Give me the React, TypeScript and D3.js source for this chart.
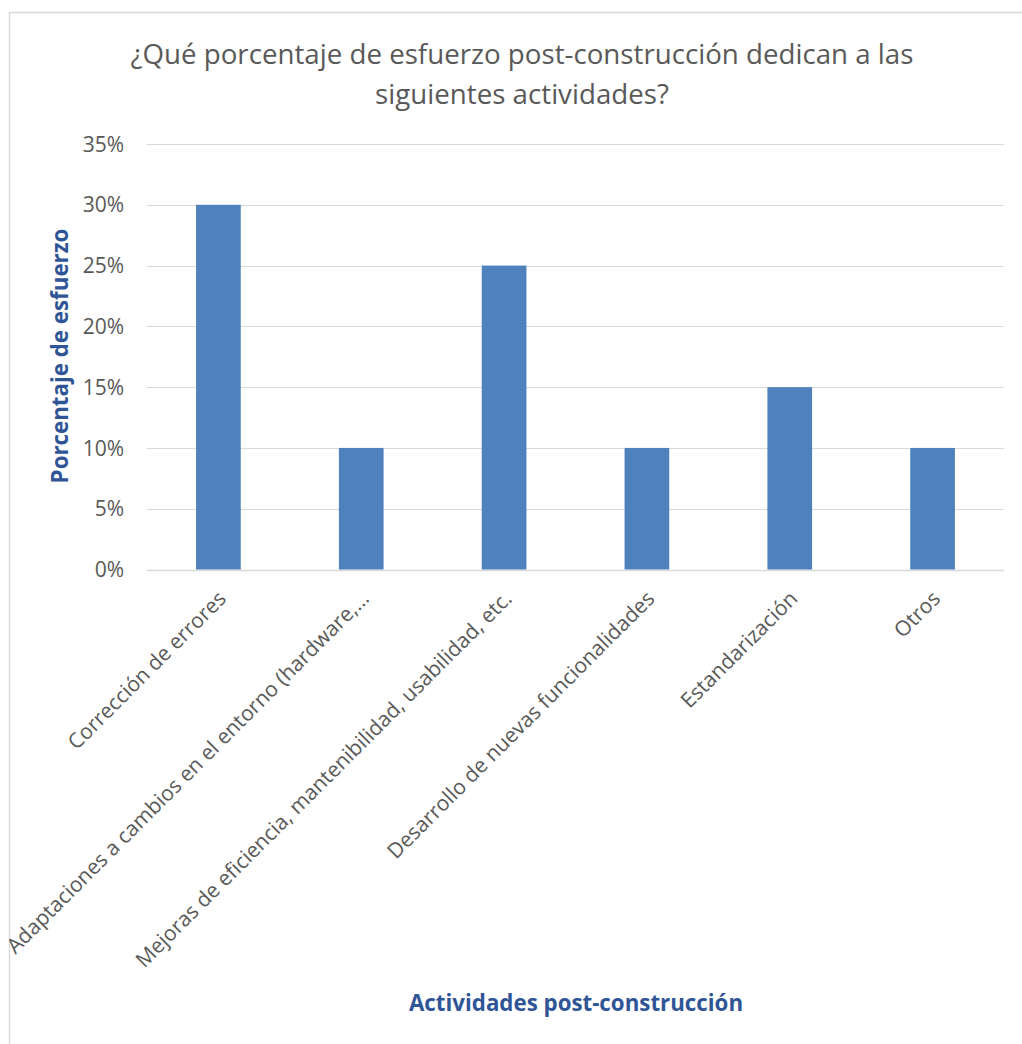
import React, { useRef, useEffect } from "react";
import * as d3 from "d3";

const categories = [
  "Corrección de errores",
  "Adaptaciones a cambios en el entorno (hardware,…",
  "Mejoras de eficiencia, mantenibilidad, usabilidad, etc.",
  "Desarrollo de nuevas funcionalidades",
  "Estandarización",
  "Otros",
];

const values = [0.3, 0.1, 0.25, 0.1, 0.15, 0.1];

const yTicks = [0, 0.05, 0.1, 0.15, 0.2, 0.25, 0.3, 0.35];

const titleLines = [
  "¿Qué porcentaje de esfuerzo post-construcción dedican a las",
  "siguientes actividades?",
];

const ChartConfig = {
  width: 1022,
  height: 1044,
  left: 147,
  right: 1004,
  top: 144,
  bottom: 569.5,
};

const FONT = "'Open Sans', 'Noto Sans', sans-serif";
const TEXT_GREY = "#595959";
const AXIS_BLUE = "#2F5597";
const BAR_BLUE = "#4F81BD";
const GRID = "#D9D9D9";

const App = () => {
  const ref = useRef<SVGSVGElement>(null);

  useEffect(() => {
    const svg = d3
      .select(ref.current)
      .attr("width", ChartConfig.width)
      .attr("height", ChartConfig.height);
    svg.selectAll("*").remove();

    // chart frame
    svg
      .append("rect")
      .attr("x", 9.5)
      .attr("y", 12.5)
      .attr("width", 1030)
      .attr("height", 1050)
      .attr("fill", "white")
      .attr("stroke", GRID)
      .attr("stroke-width", 1.5);

    const x = d3
      .scaleBand()
      .domain(categories)
      .range([ChartConfig.left, ChartConfig.right])
      .paddingInner(0.687)
      .paddingOuter(0.3435);

    const y = d3
      .scaleLinear()
      .domain([0, 0.35])
      .range([ChartConfig.bottom, ChartConfig.top]);

    // gridlines
    svg
      .append("g")
      .selectAll("line")
      .data(yTicks)
      .enter()
      .append("line")
      .attr("x1", ChartConfig.left)
      .attr("x2", ChartConfig.right)
      .attr("y1", (d) => Math.round(y(d)) + 0.5)
      .attr("y2", (d) => Math.round(y(d)) + 0.5)
      .attr("stroke", GRID)
      .attr("stroke-width", (d) => (d === 0 ? 1.5 : 1.2));

    // bars
    svg
      .append("g")
      .selectAll("rect")
      .data(values)
      .enter()
      .append("rect")
      .attr("x", (d, i) => x(categories[i]) as number)
      .attr("y", (d) => y(d))
      .attr("width", x.bandwidth())
      .attr("height", (d) => y(0) - y(d))
      .attr("fill", BAR_BLUE);

    // y axis labels
    const yAxis = d3
      .axisLeft(y)
      .tickValues(yTicks)
      .tickSize(0)
      .tickPadding(0)
      .tickFormat(d3.format(".0%") as any);

    const yg = svg
      .append("g")
      .attr("transform", `translate(124,0)`)
      .call(yAxis as any);
    yg.select(".domain").remove();
    yg.selectAll("text")
      .attr("font-family", FONT)
      .attr("font-size", 21)
      .attr("fill", TEXT_GREY)
      .attr("dy", "0.34em");

    // x axis labels
    svg
      .append("g")
      .selectAll("text")
      .data(categories)
      .enter()
      .append("text")
      .attr(
        "transform",
        (d) => `translate(${(x(d) as number) + x.bandwidth() / 2 + 9},${600}) rotate(-45)`
      )
      .attr("text-anchor", "end")
      .attr("font-family", FONT)
      .attr("font-size", 21)
      .attr("fill", TEXT_GREY)
      .text((d) => d);

    // title
    svg
      .append("g")
      .selectAll("text")
      .data(titleLines)
      .enter()
      .append("text")
      .attr("x", 522)
      .attr("y", (d, i) => 64 + i * 40)
      .attr("text-anchor", "middle")
      .attr("font-family", FONT)
      .attr("font-size", 27.7)
      .attr("fill", TEXT_GREY)
      .text((d) => d);

    // axis titles
    svg
      .append("text")
      .attr("transform", `translate(68,356) rotate(-90)`)
      .attr("text-anchor", "middle")
      .attr("font-family", FONT)
      .attr("font-size", 22.3)
      .attr("font-weight", "bold")
      .attr("fill", AXIS_BLUE)
      .text("Porcentaje de esfuerzo");

    svg
      .append("text")
      .attr("x", 576)
      .attr("y", 1011)
      .attr("text-anchor", "middle")
      .attr("font-family", FONT)
      .attr("font-size", 22.3)
      .attr("font-weight", "bold")
      .attr("fill", AXIS_BLUE)
      .text("Actividades post-construcción");
  }, []);

  return (
    <div style={{ position: "absolute", left: 0, top: 0 }}>
      <svg ref={ref} style={{ display: "block" }}></svg>
    </div>
  );
};

export default App;
